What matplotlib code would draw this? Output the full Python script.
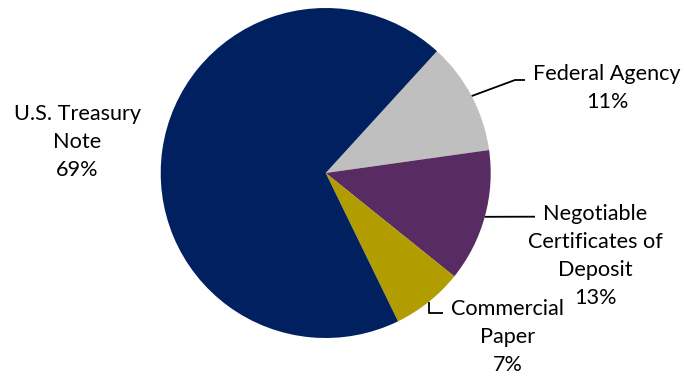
import numpy as np
import matplotlib
matplotlib.use("Agg")
import matplotlib.pyplot as plt

labels = ["Federal Agency", "Negotiable\nCertificates of\nDeposit", "Commercial\nPaper", "U.S. Treasury\nNote"]
values = [11, 13, 7, 69]
colors = ["#BFBFBF", "#582C63", "#B29D00", "#002060"]

W, H = 685, 378
fig = plt.figure(figsize=(W/100, H/100), dpi=100)
ax = fig.add_axes([0, 0, 1, 1])
cx, cy, R = 325.7, 173.0, 165.0
def d(px, py):
    return ((px - cx)/R, (cy - py)/R)

start = 47.6
wedges, _ = ax.pie(values, colors=colors, startangle=start, counterclock=False,
                   radius=1, wedgeprops=dict(linewidth=0))
ax.set_xlim(-cx/R, (W - cx)/R)
ax.set_ylim(-(H - cy)/R, cy/R)
ax.set_aspect('auto')
ax.axis('off')

plt.rcParams['font.family'] = ['Lato', 'DejaVu Sans']
fs = 15.6

# label layout: (text center px, elbow px, end px)
layout = [
    ((607, 88), (515, 80), (525, 80)),
    ((595, 256), (530, 216.7), (535, 216.7)),
    ((508, 337), (None, 313), (443, 313)),
    ((77, 142), None, None),
]

for i, (w, lab, v) in enumerate(zip(wedges, labels, values)):
    txt, elbow, end = layout[i]
    tx, ty = d(*txt)
    ax.text(tx, ty, f"{lab}\n{v}%", ha='center', va='center', fontsize=fs,
            linespacing=1.5, color='#000000')
    if elbow is not None:
        ang = np.deg2rad((w.theta1 + w.theta2)/2)
        sx, sy = np.cos(ang), np.sin(ang)
        ex_px, ey_px = elbow
        ex, ey = d(ex_px if ex_px is not None else cx + sx*R, ey_px)
        fx, fy = d(*end)
        ax.plot([sx, ex, fx], [sy, ey, fy], color='black', lw=1.3, solid_capstyle='butt')

fig.savefig("out.png", dpi=100)
